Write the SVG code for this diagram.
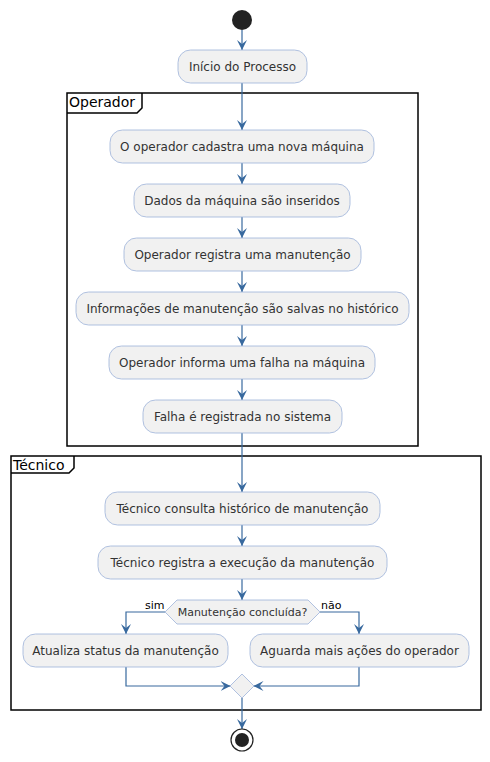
<svg xmlns="http://www.w3.org/2000/svg" width="490" height="762" viewBox="0 0 490 762">
<defs>
<marker id="ah" viewBox="0 0 10 10" refX="10" refY="5" markerWidth="10" markerHeight="10" markerUnits="userSpaceOnUse" orient="auto">
<path d="M0,0 L10,5 L0,10 L4,5 Z" fill="#38699E"/>
</marker>
</defs>
<style>
.act{fill:#F1F1F1;stroke:#9DB3D9;stroke-width:0.8}
.t{font-family:"DejaVu Sans",sans-serif;font-size:12px;fill:#333333;text-anchor:middle}
.frame{fill:none;stroke:#000000;stroke-width:1.5}
.ft{font-family:"DejaVu Sans",sans-serif;font-size:14px;fill:#000000}
.c{fill:none;stroke:#38699E;stroke-width:1.2;marker-end:url(#ah)}
.cn{fill:none;stroke:#38699E;stroke-width:1.2}
.lbl{font-family:"DejaVu Sans",sans-serif;font-size:11px;fill:#000000}
</style>
<rect width="490" height="762" fill="#FFFFFF"/>
<g id="frame-operador">
<rect class="frame" x="67" y="93" width="351" height="353"/>
<path class="frame" d="M67,113 L137,113 L142,108 L142,93"/>
<text class="ft" x="69" y="107">Operador</text>
</g>
<g id="frame-tecnico">
<rect class="frame" x="11" y="456" width="470" height="254"/>
<path class="frame" d="M11,473 L69,473 L74,468 L74,456"/>
<text class="ft" x="13" y="470">Técnico</text>
</g>
<g id="connectors">
<path class="c" d="M242,30 L242,50"/>
<path class="c" d="M242,83 L242,130"/>
<path class="c" d="M242,163 L242,184"/>
<path class="c" d="M242,217 L242,238"/>
<path class="c" d="M242,271 L242,292"/>
<path class="c" d="M242,325 L242,346"/>
<path class="c" d="M242,379 L242,400"/>
<path class="c" d="M242,433 L242,492"/>
<path class="c" d="M242,525 L242,546"/>
<path class="c" d="M242,579 L242,600"/>
<path class="c" d="M165,612 L126,612 L126,634"/>
<path class="c" d="M320,612 L359,612 L359,634"/>
<path class="c" d="M126,667 L126,686 L230.5,686"/>
<path class="c" d="M359,667 L359,686 L253.5,686"/>
<path class="c" d="M242,698 L242,729"/>
<text class="lbl" x="145" y="609">sim</text>
<text class="lbl" x="321" y="609">não</text>
</g>
<g id="start"><circle cx="242" cy="20" r="10" fill="#222222"/></g>
<g id="n1"><rect class="act" x="178" y="50" width="129" height="33" rx="12.5"/><text class="t" x="242.5" y="71">Início do Processo</text></g>
<g id="n2"><rect class="act" x="110" y="130" width="264" height="33" rx="12.5"/><text class="t" x="242" y="151">O operador cadastra uma nova máquina</text></g>
<g id="n3"><rect class="act" x="134" y="184" width="216" height="33" rx="12.5"/><text class="t" x="242" y="205">Dados da máquina são inseridos</text></g>
<g id="n4"><rect class="act" x="124" y="238" width="237" height="33" rx="12.5"/><text class="t" x="242.5" y="259">Operador registra uma manutenção</text></g>
<g id="n5"><rect class="act" x="76" y="292" width="333" height="33" rx="12.5"/><text class="t" x="242.5" y="313">Informações de manutenção são salvas no histórico</text></g>
<g id="n6"><rect class="act" x="109" y="346" width="266" height="33" rx="12.5"/><text class="t" x="242" y="367">Operador informa uma falha na máquina</text></g>
<g id="n7"><rect class="act" x="143" y="400" width="199" height="33" rx="12.5"/><text class="t" x="242.5" y="421">Falha é registrada no sistema</text></g>
<g id="n8"><rect class="act" x="105" y="492" width="275" height="33" rx="12.5"/><text class="t" x="242.5" y="513">Técnico consulta histórico de manutenção</text></g>
<g id="n9"><rect class="act" x="98" y="546" width="289" height="33" rx="12.5"/><text class="t" x="242.5" y="567">Técnico registra a execução da manutenção</text></g>
<g id="d1"><path class="act" d="M165,612 L177,600 L308,600 L320,612 L308,624 L177,624 Z"/><text class="t" x="242.5" y="616" style="font-size:11px">Manutenção concluída?</text></g>
<g id="n10"><rect class="act" x="23" y="634" width="205" height="33" rx="12.5"/><text class="t" x="125.5" y="655">Atualiza status da manutenção</text></g>
<g id="n11"><rect class="act" x="250" y="634" width="219" height="33" rx="12.5"/><text class="t" x="359.5" y="655">Aguarda mais ações do operador</text></g>
<g id="merge"><path class="act" d="M242,674 L254,686 L242,698 L230,686 Z"/></g>
<g id="end"><circle cx="242" cy="740" r="11" fill="none" stroke="#222222" stroke-width="1.2"/><circle cx="242" cy="740" r="7" fill="#222222"/></g>
</svg>
